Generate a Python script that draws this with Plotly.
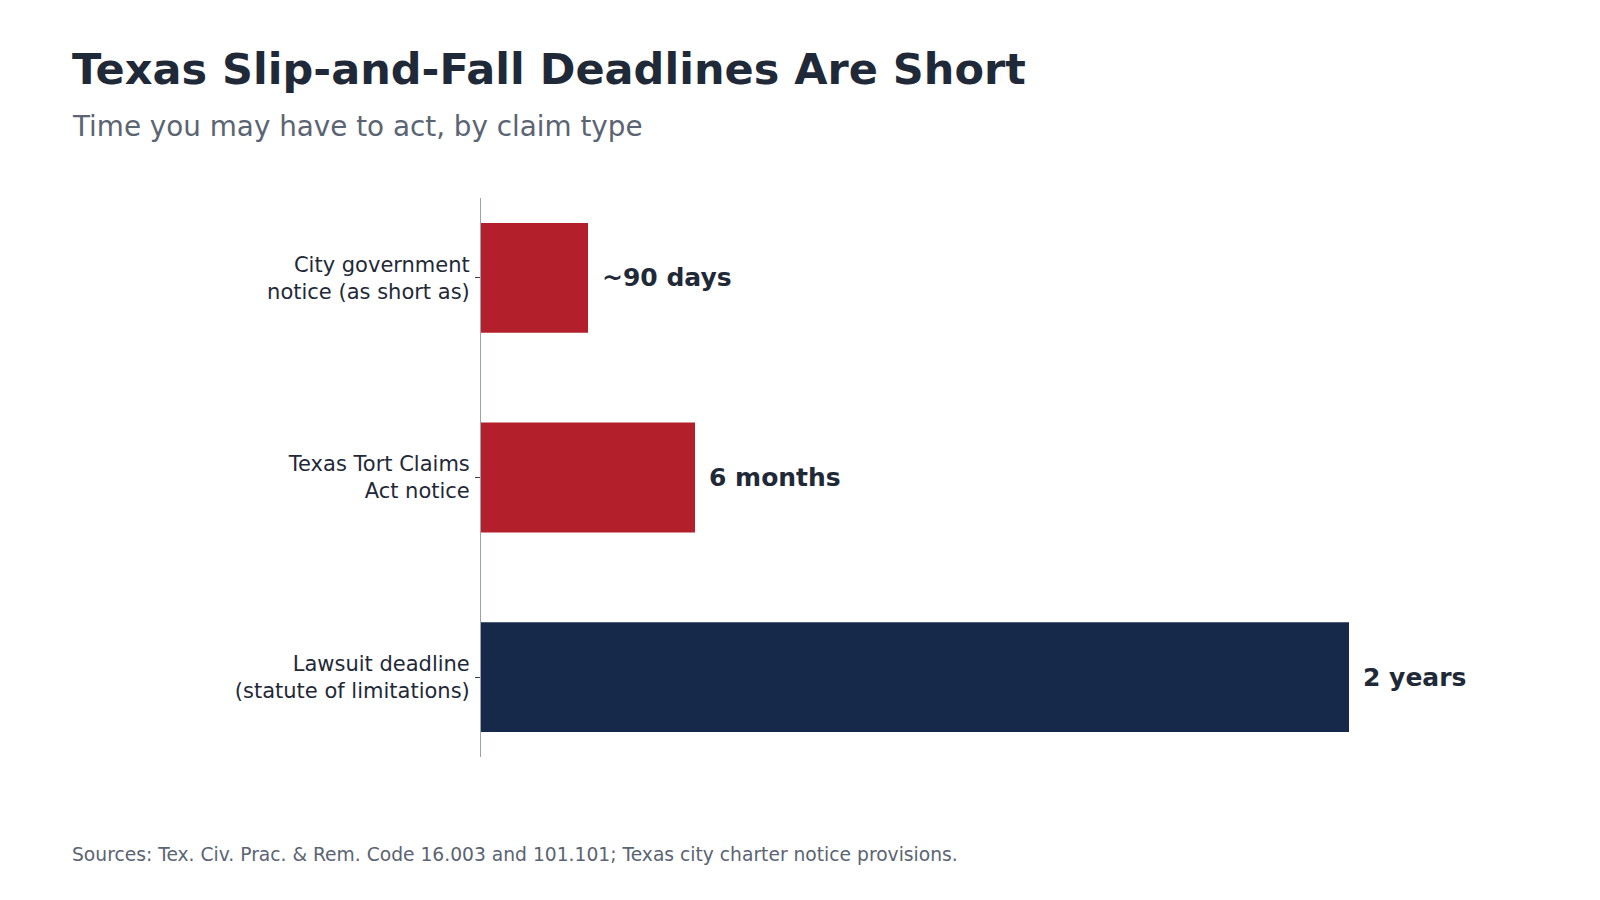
import plotly.graph_objects as go

categories = ["City government<br>notice (as short as)", "Texas Tort Claims<br>Act notice",
              "Lawsuit deadline<br>(statute of limitations)"]
days = [90, 180, 730]
value_labels = ["~90 days", "6 months", "2 years"]
bar_colors = ["#b31f2b", "#b31f2b", "#17294b"]

W, H = 1600, 900
L, R, T, B = 481, 70, 198, 143
pw, ph = W - L - R, H - T - B

def px(x):
    return (x - L) / pw

def py(y):
    return (H - y - B) / ph

fig = go.Figure()
fig.add_trace(go.Bar(
    y=categories, x=days, orientation="h",
    marker=dict(color=bar_colors, line=dict(width=0)),
    width=0.55, hoverinfo="skip",
))

for c, v, lab in zip(categories, days, value_labels):
    fig.add_annotation(x=v, y=c, text=f"<b>{lab}</b>", showarrow=False,
                       xanchor="left", xshift=12, yanchor="middle",
                       font=dict(family="DejaVu Sans", size=25, color="#1f2937"))

fig.add_annotation(xref="paper", yref="paper", x=px(70), y=py(69), xanchor="left", yanchor="middle",
                   text="<b>Texas Slip-and-Fall Deadlines Are Short</b>", showarrow=False,
                   font=dict(family="DejaVu Sans", size=43, color="#1f2937"))
fig.add_annotation(xref="paper", yref="paper", x=px(70), y=py(127), xanchor="left", yanchor="middle",
                   text="Time you may have to act, by claim type", showarrow=False,
                   font=dict(family="DejaVu Sans", size=27.8, color="#5b6472"))
fig.add_annotation(xref="paper", yref="paper", x=px(70), y=py(854), xanchor="left", yanchor="middle",
                   text="Sources: Tex. Civ. Prac. &amp; Rem. Code 16.003 and 101.101; Texas city charter notice provisions.",
                   showarrow=False,
                   font=dict(family="DejaVu Sans", size=18.7, color="#5b6472"))

fig.update_layout(
    width=W, height=H,
    margin=dict(l=L, r=R, t=T, b=B, autoexpand=False),
    plot_bgcolor="white", paper_bgcolor="white",
    showlegend=False,
    font=dict(family="DejaVu Sans", color="#1f2937"),
    xaxis=dict(range=[0, 730 * pw / 868], visible=False, fixedrange=True),
    yaxis=dict(autorange=False, range=[2.4, -0.4], categoryorder="array", categoryarray=categories,
               showline=True, linecolor="#9ca3af", linewidth=1,
               ticks="outside", ticklen=5, tickcolor="#374151", tickwidth=1,
               tickfont=dict(family="DejaVu Sans", size=21, color="#1f2937"),
               showgrid=False, zeroline=False, ticklabelstandoff=1),
)

fig.write_html("out.html")
